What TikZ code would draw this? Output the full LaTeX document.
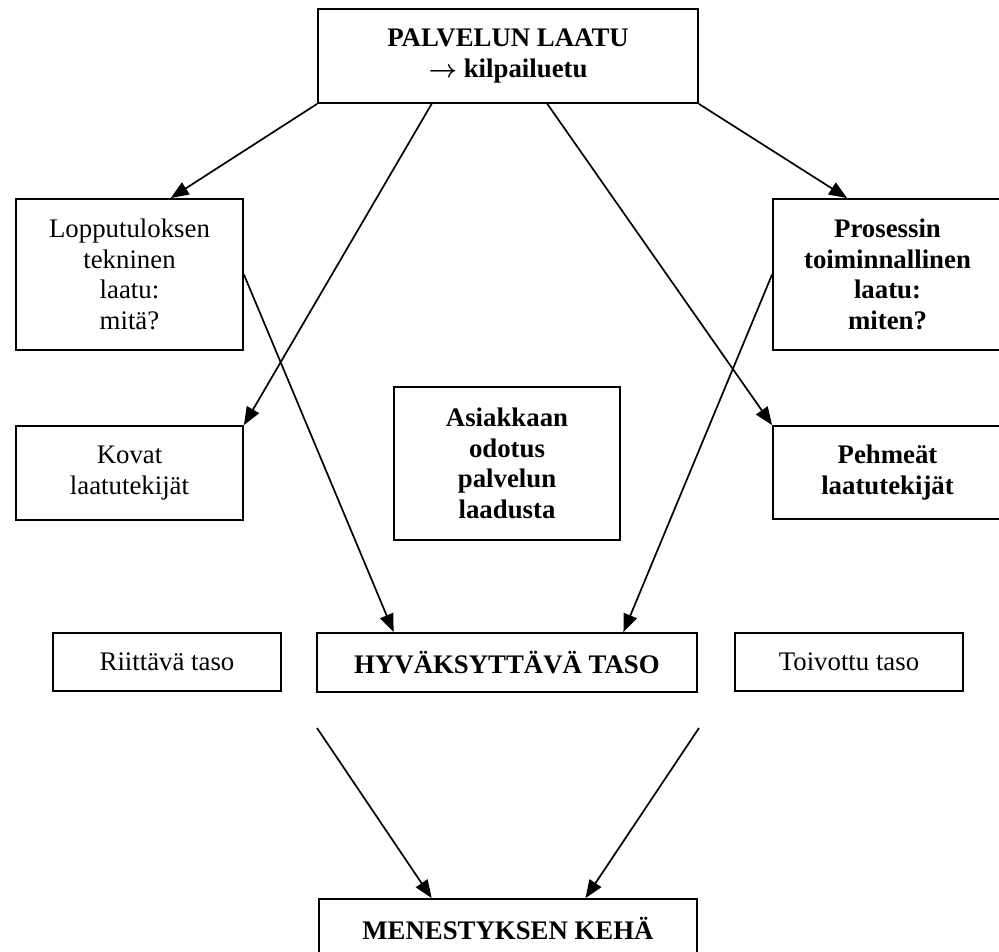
\documentclass[tikz,border=0pt]{standalone}
\usepackage{fontspec}
\setmainfont{Liberation Serif}
\usetikzlibrary{arrows.meta,calc}
\begin{document}
\begin{tikzpicture}[x=1pt,y=-1pt,
  box/.style={draw,line width=1.8pt,inner sep=0pt,align=center,
    font=\fontsize{26.8}{30.5}\selectfont},
  bbox/.style={box,font=\fontsize{26.8}{30.5}\selectfont\bfseries},
  conn/.style={line width=1.7pt,-{Triangle[length=18pt,width=14pt]}}]
\useasboundingbox (0,0) rectangle (999,952);
\fill[white] (0,0) rectangle (999,952);
\node[bbox,minimum width=380pt,minimum height=94pt] (top) at (508,56) {PALVELUN LAATU\\{\boldmath$\rightarrow$} kilpailuetu};
\node[box,minimum width=227pt,minimum height=151pt] (lop) at (129.5,274.5) {Lopputuloksen\\tekninen\\laatu:\\mitä?};
\node[bbox,minimum width=229pt,minimum height=151pt] (pro) at (887.5,274.5) {Prosessin\\toiminnallinen\\laatu:\\miten?};
\node[box,minimum width=227pt,minimum height=94pt] (kov) at (129.5,473) {Kovat\\laatutekijät};
\node[bbox,minimum width=229pt,minimum height=93pt] (peh) at (887.5,472.5) {Pehmeät\\laatutekijät};
\node[bbox,minimum width=226pt,minimum height=153pt] (asi) at (507,463.5) {Asiakkaan\\odotus\\palvelun\\laadusta};
\node[box,minimum width=228pt,minimum height=58pt] (rii) at (167,662) {Riittävä taso};
\node[bbox,minimum width=380pt,minimum height=59pt] (hyv) at (507,662.5) {HYVÄKSYTTÄVÄ TASO};
\node[box,minimum width=228pt,minimum height=58pt] (toi) at (849,662) {Toivottu taso};
\node[bbox,minimum width=378pt,minimum height=58pt] (men) at (508,928) {MENESTYKSEN KEHÄ};
\coordinate (s1) at (317,728);
\coordinate (s2) at (699,728);
\draw[conn] (top.south west) -- ($(lop.north west)!0.68!(lop.north east)$);
\draw[conn] ($(top.south west)!0.30!(top.south east)$) -- (kov.north east);
\draw[conn] ($(top.south west)!0.603!(top.south east)$) -- (peh.north west);
\draw[conn] (top.south east) -- ($(pro.north west)!0.325!(pro.north east)$);
\draw[conn] (lop.east) -- ($(hyv.north west)!0.203!(hyv.north east)$);
\draw[conn] (pro.west) -- ($(hyv.north west)!0.805!(hyv.north east)$);
\draw[conn] (s1) -- ($(men.north west)!0.299!(men.north east)$);
\draw[conn] (s2) -- ($(men.north west)!0.704!(men.north east)$);
\end{tikzpicture}
\end{document}
